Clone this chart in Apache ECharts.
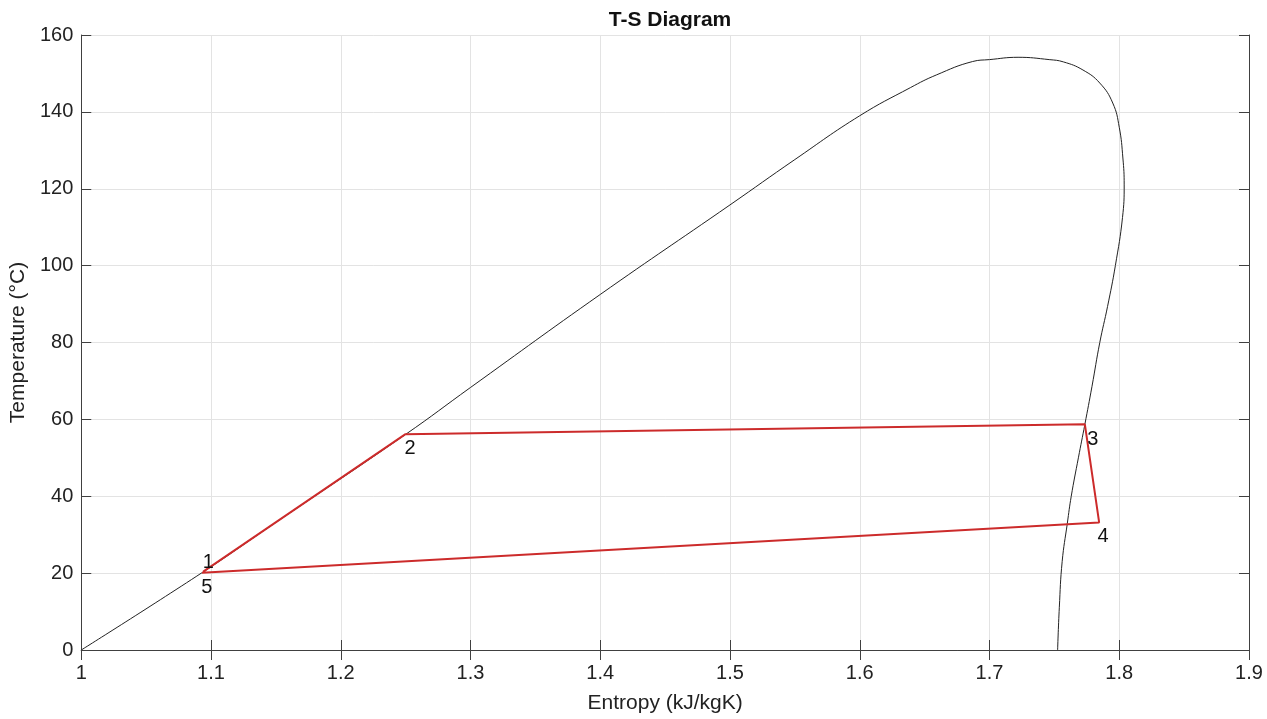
<!DOCTYPE html>
<html>
<head>
<meta charset="utf-8">
<script src="https://cdn.jsdelivr.net/npm/echarts@6/dist/echarts.min.js"></script>
<style>
  html, body { margin: 0; padding: 0; background: #fff; }
  #main { width: 1267px; height: 719px; }
</style>
</head>
<body>
<div id="main"></div>
<script>
// saturation dome (liquid side up over the top and down the vapour side)
var domeS = [1.000, 1.093, 1.150, 1.250, 1.300, 1.400, 1.500, 1.550, 1.600, 1.639, 1.659, 1.687, 1.700, 1.722,
  1.746, 1.757, 1.772, 1.785, 1.795, 1.800, 1.8028, 1.8038, 1.8025, 1.797, 1.791, 1.785, 1.779, 1.7735,
  1.7685, 1.763, 1.760, 1.756, 1.7538, 1.7525];
var domeT = [0, 20.1, 33.2, 56.1, 68.3, 92.5, 115.8, 127.6, 139.0, 146.3, 149.6, 153.1, 153.6, 154.2,
  153.6, 153.0, 150.9, 147.5, 142.3, 136.0, 128.0, 121.0, 112.5, 100.0, 89.4, 80.0, 68.6, 58.7,
  50.0, 40.0, 33.0, 23.0, 11.0, 0];

// cycle states 1..5
var cycleS = [1.094, 1.2496, 1.7735, 1.7845, 1.093];
var cycleT = [20.4, 56.1, 58.7, 33.2, 20.1];
var cycleLabels = ['1', '2', '3', '4', '5'];

// label offsets in pixels (style only)
var labelOffsets = [[5, -9], [5, 14], [8, 15], [4, 14], [5, 15]];

var font = 'Liberation Sans, Arial, Helvetica, sans-serif';
var axisColor = '#404040';

var chart = echarts.init(document.getElementById('main'));

var dome = domeS.map(function (s, i) { return [s, domeT[i]]; });
var cycle = cycleS.map(function (s, i) {
  return {
    value: [s, cycleT[i]],
    label: {
      show: true,
      formatter: cycleLabels[i],
      position: 'inside',
      offset: labelOffsets[i],
      color: '#111',
      fontSize: 20,
      fontFamily: font
    }
  };
});

var option = {
  backgroundColor: '#fff',
  animation: false,
  title: {
    text: 'T-S Diagram',
    left: 665,
    textAlign: 'center',
    top: 5,
    textStyle: { fontSize: 21, fontWeight: 'bold', color: '#111', fontFamily: font }
  },
  grid: { left: 81, right: 18, top: 35, bottom: 68 },
  xAxis: [{
    type: 'value',
    min: 1, max: 1.9, interval: 0.1,
    name: 'Entropy (kJ/kgK)',
    nameLocation: 'middle',
    nameGap: 43,
    nameTextStyle: { fontSize: 21, color: '#222', fontFamily: font },
    axisLine: { show: true, onZero: false, lineStyle: { color: axisColor, width: 1 } },
    axisTick: { show: true, inside: true, length: 10, lineStyle: { color: axisColor } },
    axisLabel: { fontSize: 20, color: '#222', margin: 13, fontFamily: font },
    splitLine: { show: true, lineStyle: { color: '#e3e3e3', width: 1 } }
  }, {
    type: 'value',
    position: 'top',
    min: 1, max: 1.9, interval: 0.1,
    axisLine: { show: true, lineStyle: { color: axisColor, width: 1 } },
    axisTick: { show: true, inside: true, length: 10, lineStyle: { color: axisColor } },
    axisLabel: { show: false },
    splitLine: { show: false }
  }],
  yAxis: [{
    type: 'value',
    min: 0, max: 160, interval: 20,
    name: 'Temperature (°C)',
    nameLocation: 'middle',
    nameGap: 42,
    nameTextStyle: { fontSize: 21, color: '#222', fontFamily: font },
    axisLine: { show: true, onZero: false, lineStyle: { color: axisColor, width: 1 } },
    axisTick: { show: true, inside: true, length: 10, lineStyle: { color: axisColor } },
    axisLabel: { fontSize: 20, color: '#222', margin: 8, fontFamily: font },
    splitLine: { show: true, lineStyle: { color: '#e3e3e3', width: 1 } }
  }, {
    type: 'value',
    position: 'right',
    min: 0, max: 160, interval: 20,
    axisLine: { show: true, lineStyle: { color: axisColor, width: 1 } },
    axisTick: { show: true, inside: true, length: 10, lineStyle: { color: axisColor } },
    axisLabel: { show: false },
    splitLine: { show: false }
  }],
  series: [{
    name: 'dome',
    type: 'line',
    data: dome,
    showSymbol: false,
    smooth: 0.45,
    smoothMonotone: 'none',
    lineStyle: { color: '#222', width: 1 },
    z: 2
  }, {
    name: 'cycle',
    type: 'line',
    data: cycle,
    symbol: 'circle',
    symbolSize: 0,
    showSymbol: true,
    lineStyle: { color: '#cc2b2b', width: 2 },
    itemStyle: { color: '#cc2b2b' },
    z: 3
  }]
};

chart.setOption(option);
</script>
</body>
</html>
